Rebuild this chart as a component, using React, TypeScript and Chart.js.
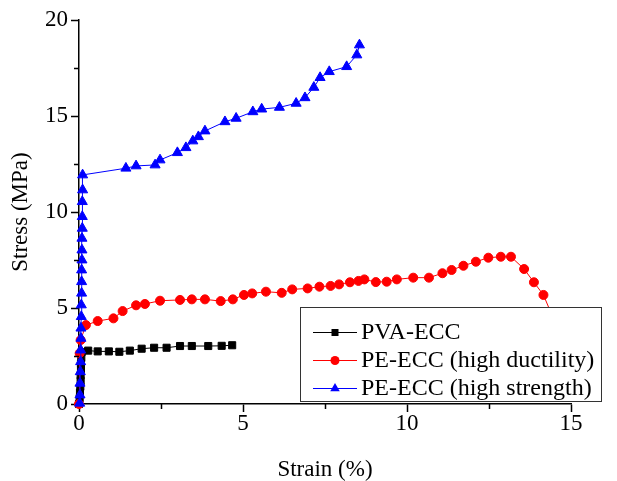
import React, { useEffect, useRef } from "react";
import { Chart, registerables } from "chart.js";

Chart.register(...registerables);

// ---- data ----
const pvaStrain = [0, 0.02, 0.03, 0.04, 0.05, 0.05, 0.06, 0.06, 0.07, 0.08, 0.28, 0.57, 0.91, 1.23, 1.55, 1.91, 2.29, 2.67, 3.08, 3.44, 3.94, 4.35, 4.67];
const pvaStress = [0, 0.3, 0.6, 0.9, 1.2, 1.5, 1.8, 2.1, 2.4, 2.7, 2.78, 2.74, 2.74, 2.72, 2.78, 2.88, 2.93, 2.93, 3.02, 3.02, 3.02, 3.03, 3.06];

const ductStrain = [0, 0.02, 0.05, 0.21, 0.57, 1.05, 1.33, 1.74, 2.01, 2.47, 3.08, 3.44, 3.84, 4.32, 4.69, 5.03, 5.28, 5.70, 6.18, 6.50, 6.97, 7.33, 7.67, 7.93, 8.26, 8.52, 8.70, 9.05, 9.38, 9.69, 10.19, 10.67, 11.08, 11.36, 11.72, 12.10, 12.48, 12.86, 13.17, 13.57, 13.87, 14.16, 14.5];
const ductStress = [0, 2.64, 3.33, 4.11, 4.32, 4.46, 4.84, 5.14, 5.21, 5.38, 5.42, 5.45, 5.45, 5.36, 5.45, 5.68, 5.76, 5.85, 5.79, 5.97, 6.02, 6.11, 6.15, 6.23, 6.34, 6.41, 6.49, 6.35, 6.37, 6.49, 6.58, 6.58, 6.81, 6.98, 7.20, 7.41, 7.62, 7.67, 7.67, 7.03, 6.34, 5.68, 4.3];

const strStrain = [0.02, 0.03, 0.03, 0.04, 0.05, 0.05, 0.06, 0.06, 0.07, 0.07, 0.08, 0.08, 0.08, 0.09, 0.09, 0.09, 0.10, 0.10, 0.10, 0.11, 0.11, 1.43, 1.74, 2.32, 2.47, 3.00, 3.26, 3.47, 3.64, 3.84, 4.45, 4.79, 5.30, 5.57, 6.11, 6.62, 6.89, 7.16, 7.35, 7.63, 8.16, 8.47, 8.55];
const strStress = [0.04, 0.47, 1.08, 1.68, 2.20, 2.81, 3.42, 3.95, 4.55, 5.16, 5.77, 6.37, 6.98, 7.50, 8.02, 8.63, 9.15, 9.76, 10.54, 11.15, 11.93, 12.28, 12.40, 12.45, 12.71, 13.09, 13.35, 13.70, 13.92, 14.22, 14.70, 14.88, 15.22, 15.36, 15.45, 15.66, 15.95, 16.49, 17.0, 17.31, 17.57, 18.18, 18.70];

const seriesLabels = ["PVA-ECC", "PE-ECC (high ductility)", "PE-ECC (high strength)"];
const xTickMajor = [0, 5, 10, 15];
const yTickMajor = [0, 5, 10, 15, 20];

const FONT = '"Liberation Serif", "Times New Roman", serif';

const toPts = (xs: number[], ys: number[]) => xs.map((x, i) => ({ x, y: ys[i] }));

const minorTicks = {
  id: "minorTicks",
  afterDraw(chart: any) {
    const { ctx, scales } = chart;
    const xs = scales.x, ys = scales.y;
    ctx.save();
    ctx.strokeStyle = "#000";
    ctx.lineWidth = 1.5;
    ctx.beginPath();
    for (let v = 2.5; v < 15; v += 5) {
      const px = Math.round(xs.getPixelForValue(v)) + 0.5;
      ctx.moveTo(px, xs.top);
      ctx.lineTo(px, xs.top + 5);
    }
    for (let v = 2.5; v < 20; v += 5) {
      const py = Math.round(ys.getPixelForValue(v)) + 0.5;
      ctx.moveTo(ys.right, py);
      ctx.lineTo(ys.right - 5, py);
    }
    ctx.stroke();
    ctx.restore();
  },
};

const boxLegend = {
  id: "boxLegend",
  afterDraw(chart: any) {
    const ctx = chart.ctx;
    const ds = chart.data.datasets;
    ctx.save();
    ctx.fillStyle = "#fff";
    ctx.fillRect(300, 307, 302, 95);
    ctx.strokeStyle = "#333";
    ctx.lineWidth = 1;
    ctx.strokeRect(300.5, 307.5, 301, 94);
    ds.forEach((d: any, i: number) => {
      const y = 332 + i * 28;
      ctx.strokeStyle = d.borderColor;
      ctx.lineWidth = 1;
      ctx.beginPath();
      ctx.moveTo(313, y + 0.5);
      ctx.lineTo(357, y + 0.5);
      ctx.stroke();
      ctx.fillStyle = d.borderColor;
      const cx = 335, cy = y + 0.5;
      ctx.beginPath();
      if (d.pointStyle === "rect") {
        ctx.rect(cx - 3.5, cy - 3.5, 7, 7);
      } else if (d.pointStyle === "circle") {
        ctx.arc(cx, cy, 4.5, 0, Math.PI * 2);
      } else {
        const r = 5.5;
        ctx.moveTo(cx, cy - r);
        ctx.lineTo(cx + r * 0.866, cy + r * 0.5);
        ctx.lineTo(cx - r * 0.866, cy + r * 0.5);
        ctx.closePath();
      }
      ctx.fill();
      ctx.fillStyle = "#000";
      ctx.font = `24px ${FONT}`;
      ctx.textBaseline = "middle";
      ctx.textAlign = "left";
      ctx.fillText(d.label, 361, y + 1);
    });
    ctx.restore();
  },
};

export default function App() {
  const ref = useRef<HTMLCanvasElement>(null);
  useEffect(() => {
    if (!ref.current) return;
    const axisCommon = (majors: number[]) => ({
      type: "linear" as const,
      ticks: {
        stepSize: 2.5,
        autoSkip: false,
        maxRotation: 0,
        color: "#000",
        font: { family: FONT, size: 23 },
        callback: (v: any) => (majors.includes(v) ? String(v) : ""),
      },
      grid: {
        drawOnChartArea: false,
        drawTicks: true,
        tickLength: 8,
        tickWidth: 1.5,
        tickColor: (c: any) => (c.tick && majors.includes(c.tick.value) ? "#000" : "rgba(0,0,0,0)"),
      },
      border: { display: true, color: "#000", width: 1.5 },
    });
    const xAxis: any = axisCommon(xTickMajor);
    xAxis.min = 0; xAxis.max = 15;
    xAxis.ticks.padding = -2;
    xAxis.afterFit = (s: any) => { s.height = 77; };
    xAxis.title = { display: true, text: "Strain (%)", color: "#000", font: { family: FONT, size: 23, lineHeight: 1 }, padding: { top: 0, bottom: 0 } };
    const yAxis: any = axisCommon(yTickMajor);
    yAxis.min = 0; yAxis.max = 20;
    yAxis.ticks.padding = 3;
    yAxis.afterFit = (s: any) => { s.width = 79; };
    yAxis.title = { display: true, text: "Stress (MPa)", color: "#000", font: { family: FONT, size: 23, lineHeight: 1 }, padding: { top: 9, bottom: 0 } };

    const chart = new Chart(ref.current, {
      type: "scatter",
      data: {
        datasets: [
          {
            label: seriesLabels[0],
            data: toPts(pvaStrain, pvaStress),
            showLine: true,
            borderColor: "#000000",
            backgroundColor: "#000000",
            borderWidth: 1,
            pointStyle: "rect",
            pointRadius: 5,
            pointBorderWidth: 1,
            order: 2,
            clip: false,
          } as any,
          {
            label: seriesLabels[1],
            data: toPts(ductStrain, ductStress),
            showLine: true,
            borderColor: "#ff0000",
            backgroundColor: "#ff0000",
            borderWidth: 1,
            pointStyle: "circle",
            pointRadius: 4.5,
            pointBorderWidth: 1,
            order: 1,
            clip: false,
          },
          {
            label: seriesLabels[2],
            data: toPts(strStrain, strStress),
            showLine: true,
            borderColor: "#0000ff",
            backgroundColor: "#0000ff",
            borderWidth: 1,
            pointStyle: "triangle",
            pointRadius: 5.8,
            pointBorderWidth: 1,
            order: 0,
            clip: false,
          },
        ],
      },
      options: {
        animation: false,
        responsive: false,
        layout: { padding: { top: 20, right: 46, left: 0, bottom: 0 } },
        plugins: { legend: { display: false }, tooltip: { enabled: false } },
        scales: { x: xAxis, y: yAxis },
      },
      plugins: [minorTicks, boxLegend],
    });
    return () => chart.destroy();
  }, []);
  return (
    <div style={{ position: "absolute", left: 0, top: 0, width: 617, height: 481, background: "#fff" }}>
      <canvas ref={ref} width={617} height={481} style={{ display: "block" }} />
    </div>
  );
}
